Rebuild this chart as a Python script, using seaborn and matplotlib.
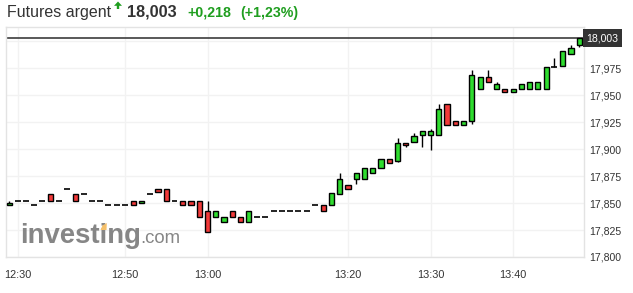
import matplotlib
matplotlib.use("Agg")
import matplotlib.pyplot as plt
import seaborn as sns
import numpy as np
import pandas as pd
from matplotlib.patches import Polygon

# ---- data (candles, index-based x like the source chart) ----
opens  = [17.848, 17.852, 17.852, 17.848, 17.852, 17.858, 17.852, 17.863, 17.858, 17.858,
          17.852, 17.852, 17.848, 17.848, 17.848, 17.852, 17.850, 17.858, 17.863, 17.863,
          17.852, 17.852, 17.852, 17.852, 17.843, 17.837, 17.832, 17.843, 17.837, 17.832,
          17.837, 17.837, 17.843, 17.843, 17.843, 17.843, 17.843, 17.848, 17.848, 17.848,
          17.858, 17.867, 17.872, 17.872, 17.878, 17.883, 17.891, 17.889, 17.906, 17.907,
          17.913, 17.913, 17.913, 17.942, 17.926, 17.922, 17.926, 17.956, 17.967, 17.956,
          17.956, 17.953, 17.956, 17.956, 17.956, 17.956, 17.976, 17.977, 17.988, 17.997]
highs  = [17.852, 17.852, 17.852, 17.848, 17.852, 17.858, 17.852, 17.863, 17.858, 17.858,
          17.852, 17.852, 17.848, 17.848, 17.848, 17.852, 17.852, 17.858, 17.863, 17.863,
          17.852, 17.852, 17.852, 17.852, 17.852, 17.843, 17.837, 17.843, 17.837, 17.843,
          17.837, 17.837, 17.843, 17.843, 17.843, 17.843, 17.843, 17.848, 17.848, 17.859,
          17.878, 17.867, 17.878, 17.883, 17.883, 17.891, 17.891, 17.910, 17.906, 17.915,
          17.917, 17.919, 17.942, 17.942, 17.926, 17.926, 17.973, 17.967, 17.973, 17.962,
          17.956, 17.956, 17.960, 17.962, 17.962, 17.976, 17.985, 17.991, 17.997, 18.003]
lows   = [17.848, 17.852, 17.852, 17.848, 17.852, 17.852, 17.852, 17.863, 17.852, 17.858,
          17.852, 17.852, 17.848, 17.848, 17.848, 17.848, 17.850, 17.858, 17.860, 17.852,
          17.852, 17.848, 17.848, 17.837, 17.823, 17.837, 17.832, 17.837, 17.832, 17.832,
          17.837, 17.837, 17.843, 17.843, 17.843, 17.843, 17.843, 17.848, 17.843, 17.848,
          17.858, 17.863, 17.868, 17.872, 17.878, 17.883, 17.887, 17.888, 17.902, 17.907,
          17.902, 17.899, 17.913, 17.922, 17.922, 17.922, 17.923, 17.956, 17.962, 17.956,
          17.953, 17.953, 17.956, 17.956, 17.956, 17.956, 17.976, 17.977, 17.988, 17.995]
closes = [17.850, 17.852, 17.852, 17.848, 17.852, 17.852, 17.852, 17.863, 17.852, 17.858,
          17.852, 17.852, 17.848, 17.848, 17.848, 17.848, 17.852, 17.858, 17.860, 17.852,
          17.852, 17.848, 17.848, 17.837, 17.823, 17.843, 17.837, 17.837, 17.832, 17.843,
          17.837, 17.837, 17.843, 17.843, 17.843, 17.843, 17.843, 17.848, 17.843, 17.859,
          17.872, 17.863, 17.878, 17.883, 17.883, 17.891, 17.887, 17.906, 17.904, 17.912,
          17.917, 17.917, 17.937, 17.922, 17.922, 17.926, 17.969, 17.967, 17.962, 17.960,
          17.953, 17.956, 17.960, 17.962, 17.962, 17.976, 17.976, 17.991, 17.994, 18.003]

x_tick_index  = [1, 14, 24, 41, 51, 61]
x_tick_labels = ["12:30", "12:50", "13:00", "13:20", "13:30", "13:40"]
y_ticks       = [17.800, 17.825, 17.850, 17.875, 17.900, 17.925, 17.950, 17.975, 18.000]
last_price    = 18.003
title_name    = "Futures argent"
title_price   = "18,003"
title_change  = "+0,218"
title_pct     = "(+1,23%)"

df = pd.DataFrame({"open": opens, "high": highs, "low": lows, "close": closes})
df["idx"] = np.arange(len(df))

GREEN = "#2fdc2f"
RED = "#f23a3a"
TXT = "#333333"
GRID = "#f2f2f2"
BORDER = "#e3e3e3"
TGREEN = "#1f9e1f"

sns.set_theme(style="white")
plt.rcParams["font.family"] = ["Liberation Sans", "DejaVu Sans"]

W, H = 633, 293
fig = plt.figure(figsize=(W / 100, H / 100), dpi=100)
ax = fig.add_axes([6 / W, 1 - 257 / H, (584 - 6) / W, (257 - 27) / H])
ax.set_facecolor("white")

ax.set_xlim(-0.4, 69.58)
ax.set_ylim(17.800, 18.0133)

# grid
ax.set_yticks(y_ticks)
ax.set_yticklabels([f"{v:.3f}".replace(".", ",") if v < 18 else "" for v in y_ticks])
ax.set_xticks(x_tick_index)
ax.set_xticklabels(x_tick_labels)
ax.grid(True, color=GRID, lw=1)
ax.yaxis.tick_right()
ax.tick_params(axis="y", length=0, pad=4, labelsize=7.6, colors=TXT)
ax.tick_params(axis="x", length=0, pad=9.5, labelsize=7.8, colors=TXT)
for s in ax.spines.values():
    s.set_color(BORDER)
    s.set_linewidth(1)
    s.set_visible(True)

# watermark
fig.text(20 / W, 1 - 242.7 / H, "investing", fontsize=19.8, fontweight="bold",
         color="#868686", va="baseline", ha="left", zorder=0)
fig.text(140.5 / W, 1 - 242.7 / H, ".com", fontsize=13.4, color="#868686",
         va="baseline", ha="left", zorder=0)
orange = Polygon([[100.5 / W, 1 - 230 / H], [106.5 / W, 1 - 230 / H],
                  [106.8 / W, 1 - 223 / H], [102.5 / W, 1 - 225.5 / H]],
                 closed=True, transform=fig.transFigure, facecolor="#f5c06a",
                 edgecolor="none", zorder=1)
fig.patches.append(orange)

# last price line
ax.axhline(last_price, color="#3c3c3c", lw=1.2, zorder=2)

# candles
is_doji = df["open"] == df["close"]
body = df[~is_doji]
doji = df[is_doji]
colors = [GREEN if c > o else RED for o, c in zip(body["open"], body["close"])]

ax.vlines(df["idx"], df["low"], df["high"], color="black", lw=1, zorder=3)
ax.bar(body["idx"], (body["close"] - body["open"]).abs(),
       bottom=np.minimum(body["open"], body["close"]), width=0.62,
       color=colors, edgecolor="black", linewidth=1, zorder=4)
ax.hlines(doji["close"], doji["idx"] - 0.36, doji["idx"] + 0.36, color="black",
          lw=1.2, zorder=4)

# last price label
ax.text(1.004, last_price, title_price, transform=ax.get_yaxis_transform(),
        ha="left", va="center", fontsize=7.6, color="white", zorder=6,
        bbox=dict(boxstyle="square,pad=0.35", facecolor="#333333", edgecolor="none"),
        clip_on=False)

# title
fig.text(7 / W, 1 - 16.5 / H, title_name, fontsize=11.5, color=TXT, va="baseline", ha="left")
arrow = Polygon([[118 / W, 1 - 1.5 / H], [114 / W, 1 - 5.8 / H], [116.8 / W, 1 - 5.8 / H],
                 [116.8 / W, 1 - 9 / H], [119.2 / W, 1 - 9 / H], [119.2 / W, 1 - 5.8 / H],
                 [122 / W, 1 - 5.8 / H]], closed=True, transform=fig.transFigure,
                facecolor=TGREEN, edgecolor="none")
fig.patches.append(arrow)
fig.text(127.5 / W, 1 - 16.5 / H, title_price, fontsize=11.7, fontweight="bold",
         color=TXT, va="baseline", ha="left")
fig.text(187 / W, 1 - 16.5 / H, title_change, fontsize=10.2, fontweight="bold",
         color=TGREEN, va="baseline", ha="left")
fig.text(240 / W, 1 - 16.5 / H, title_pct, fontsize=10.2, fontweight="bold",
         color=TGREEN, va="baseline", ha="left")

fig.savefig("out.png", dpi=100, facecolor="white")
